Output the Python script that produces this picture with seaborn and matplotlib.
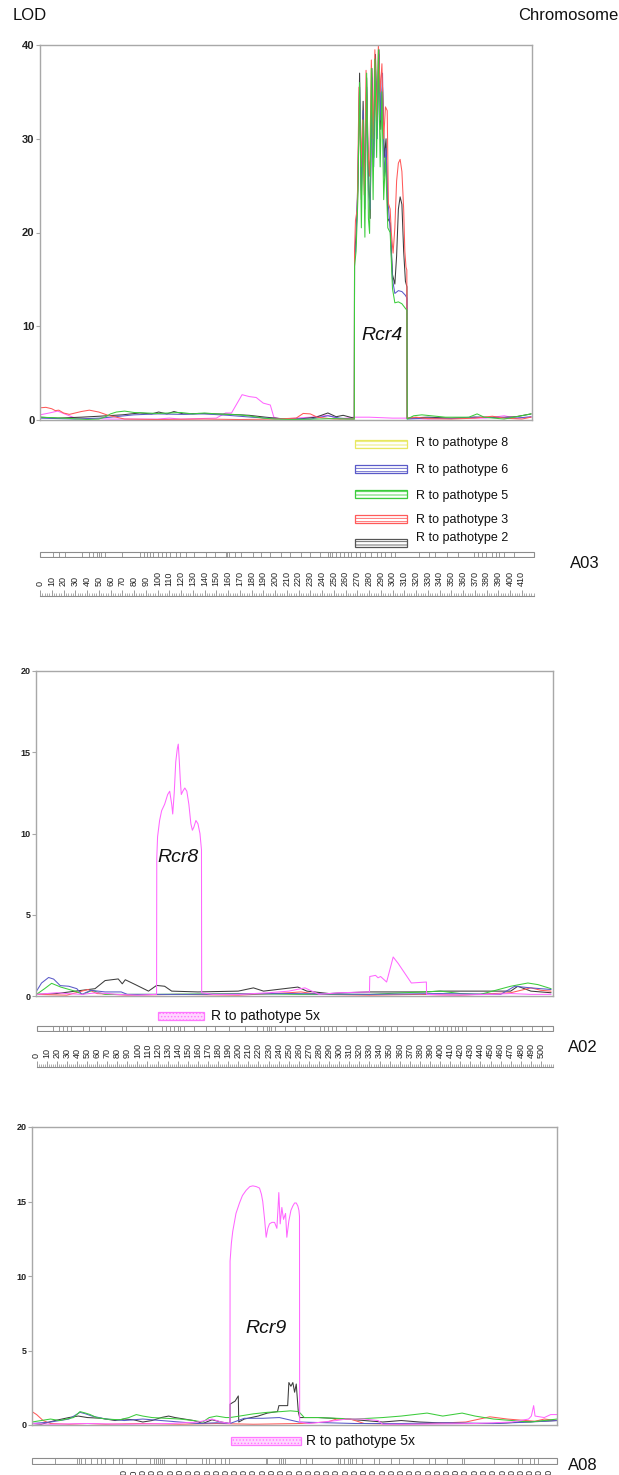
import matplotlib
matplotlib.use("Agg")
import matplotlib.pyplot as plt
import seaborn as sns
import pandas as pd
import numpy as np
from matplotlib.patches import Rectangle

# ---------------- DATA ----------------
# A03 (top panel) LOD profiles, (cM, LOD)
a03_black = [(0,0.3),(15,0.2),(35,0.3),(50,0.4),(70,0.55),(85,0.75),(95,0.65),(101,0.85),(108,0.65),(114,0.9),(122,0.65),(135,0.7),(150,0.65),(163,0.6),(178,0.5),(192,0.3),(205,0.15),(220,0.1),(235,0.3),(245,0.75),(252,0.35),(258,0.5),(264,0.3),(267.5,0.2),
             (267.7,17.5),(269,19.8),(270.5,24.5),(272,37),(273.5,23.5),(275,34),(276.5,24.5),(278,36.5),(279.5,26.5),(281,21.5),(282.5,37.5),(284,28),(285.5,39),(287,31),(288.5,39.5),(290,31),(291.5,35.5),(293,28),(294.5,30),(296,21.5),(298,21),(300,15.5),(302,14.5),(303.5,17.5),(305,22.5),(306.5,23.8),(308,23),(309.5,18),(311,14.8),(312.3,14.2),
             (312.5,0.2),(330,0.3),(350,0.2),(370,0.3),(390,0.25),(405,0.35),(418,0.65)]
a03_red = [(0,1.3),(5,1.35),(10,1.2),(13,1.0),(16,1.05),(20,0.75),(25,0.6),(35,0.9),(42,1.05),(50,0.85),(58,0.5),(65,0.3),(72,0.1),(100,0.05),(140,0.1),(170,0.05),(200,0.1),(218,0.2),(224,0.7),(230,0.65),(236,0.3),(250,0.1),(267.5,0.1),
           (267.7,18),(268.5,21.3),(270,22.5),(271.5,35.5),(273,27),(274.5,32),(276,24),(277.5,37.3),(279,29),(280.5,26),(282,38.4),(283.5,30),(285,39.5),(286.5,32),(288,40),(289.5,35),(291,38),(292.5,30),(294,33.4),(295.5,33),(296.5,23.1),(298,22.5),(299,20),(300.5,17.8),(302,20.5),(303.5,25.5),(305,27.4),(306.5,27.8),(308,26.5),(309.5,22.5),(310.5,18),(311.5,16.3),(312.2,16),
           (312.4,0.2),(320,0.3),(330,0.15),(350,0.1),(370,0.2),(385,0.4),(395,0.2),(410,0.1),(418,0.3)]
a03_green = [(0,0.3),(20,0.2),(40,0.05),(50,0.1),(55,0.3),(60,0.65),(65,0.85),(72,0.95),(80,0.8),(90,0.75),(100,0.7),(110,0.75),(120,0.8),(130,0.65),(140,0.75),(150,0.65),(160,0.6),(170,0.55),(180,0.4),(190,0.2),(200,0.1),(215,0.05),(235,0.1),(250,0.15),(260,0.1),(267.5,0.1),
             (267.7,16.4),(269,18),(270.5,23.5),(272,36),(273.5,20.5),(275,32),(276.5,19.5),(278,37),(279.5,21.5),(280.5,19.9),(282,37.5),(283.5,23.5),(285,38.5),(286.5,28),(288,39.5),(289.5,27),(291,35),(292.5,23.5),(294,28),(296,20.5),(298,20),(300,14),(302,12.5),(305,12.6),(308,12.4),(311,11.9),(312.3,11.7),
             (312.5,0.1),(318,0.45),(325,0.55),(345,0.3),(365,0.3),(372,0.65),(378,0.3),(395,0.1),(418,0.65)]
a03_blue = [(0,0.2),(30,0.1),(50,0.2),(60,0.3),(80,0.55),(100,0.65),(120,0.6),(140,0.65),(160,0.5),(180,0.3),(200,0.15),(230,0.1),(245,0.45),(255,0.2),(267.5,0.1),
            (267.7,17),(269,19),(270.5,25.5),(272,35.5),(273.5,24.5),(275,33),(276.5,22.5),(278,35.5),(279.5,24.5),(281,22.5),(282.5,36.5),(284,27),(285.5,37.5),(287,30),(288.5,39),(290,32),(291.5,37),(293,26),(294.5,29),(296,23.5),(298,20.5),(300,15),(302,13.5),(305,13.8),(308,13.7),(311,13.3),(312.3,13),
            (312.5,0.1),(330,0.2),(350,0.15),(370,0.3),(390,0.3),(405,0.2),(418,0.35)]
a03_magenta = [(0,0.55),(8,0.75),(15,0.95),(22,0.6),(30,0.2),(60,0.1),(100,0.1),(110,0.2),(120,0.1),(150,0.2),(158,0.75),(163,0.75),(166,1.4),(172,2.7),(178,2.5),(184,2.4),(190,1.8),(196,1.6),(199,0.3),(205,0.1),(230,0.3),(245,0.5),(255,0.1),(267,0.3),(280,0.3),(300,0.2),(312,0.2),(330,0.1),(360,0.2),(380,0.2),(395,0.45),(405,0.2),(418,0.3)]

# A02 (middle panel)
a02_black = [(0,0.1),(20,0.15),(45,0.35),(58,0.45),(68,0.95),(81,1.05),(85,0.75),(88,1.0),(98,0.7),(111,0.3),(119,0.65),(127,0.6),(134,0.3),(160,0.25),(200,0.3),(215,0.5),(225,0.3),(259,0.55),(268,0.3),(290,0.15),(305,0.2),(330,0.25),(385,0.25),(400,0.3),(470,0.3),(477,0.6),(490,0.3),(510,0.2)]
a02_red = [(0,0.1),(30,0.05),(51,0.4),(60,0.15),(90,0.05),(140,0.1),(200,0.05),(250,0.2),(262,0.25),(280,0.1),(330,0.05),(380,0.1),(420,0.05),(470,0.2),(490,0.5),(500,0.35),(510,0.3)]
a02_green = [(0,0.1),(8,0.45),(15,0.78),(24,0.55),(38,0.3),(46,0.1),(55,0.35),(62,0.2),(68,0.1),(120,0.1),(200,0.15),(260,0.1),(330,0.1),(400,0.3),(420,0.15),(440,0.1),(470,0.6),(487,0.8),(497,0.7),(510,0.45)]
a02_blue = [(0,0.3),(5,0.8),(12,1.14),(17,1.04),(23.5,0.64),(32,0.6),(40,0.45),(45,0.1),(54,0.35),(68,0.25),(84,0.25),(90,0.1),(150,0.1),(250,0.15),(330,0.1),(400,0.15),(460,0.1),(474,0.6),(490,0.5),(510,0.4)]
a02_magenta = [(0,0.1),(20,0.2),(30,0.15),(45,0.1),(60,0.2),(80,0.1),(100,0.05),(119,0.1),
               (119.2,8.5),(120,9.8),(122,10.8),(124,11.4),(127,11.8),(130,12.4),(132,12.6),(134,11.8),(135,11.2),(136.5,12.5),(138,14.4),(139.5,15.2),(140.5,15.5),(141.5,14.5),(142.5,13.3),(143.5,12.4),(145,12.6),(147,12.8),(149,12.6),(151,11.8),(153,10.6),(154.5,10.2),(156,10.4),(158,10.8),(160,10.6),(162,10.0),(163.5,9.0),
               (163.7,0.2),(175,0.1),(200,0.1),(230,0.2),(250,0.3),(266,0.5),(280,0.1),(300,0.2),(330,0.25),
               (330.3,1.2),(336,1.27),(338.5,1.12),(341,1.2),(347,0.86),(353.5,2.4),(358.5,2.0),(365,1.4),(371.5,0.8),(386.4,0.86),
               (386.6,0.1),(410,0.05),(450,0.1),(470,0.15),(490,0.1),(510,0.1)]

# A08 (bottom panel)
a08_black = [(0,0.1),(10,0.05),(25,0.3),(40,0.5),(50,0.6),(60,0.5),(75,0.45),(90,0.3),(100,0.4),(110,0.35),(120,0.2),(130,0.3),(140,0.5),(148,0.6),(155,0.5),(165,0.4),(175,0.3),(185,0.1),(195,0.35),(205,0.2),(214.5,0.1),
             (214.6,1.4),(220,1.6),(223.5,1.95),(224,0.2),(230,0.4),(245,0.6),(255,0.8),(266,0.9),(267.5,1.3),(277,1.3),(278.3,2.85),(280.5,2.6),(282.6,2.85),(284.5,2.2),(286.3,2.75),(288.5,0.9),(290,0.5),(310,0.5),(340,0.4),(360,0.3),(380,0.2),(400,0.3),(420,0.2),(440,0.15),(470,0.1),(500,0.1),(530,0.2),(569,0.3)]
a08_red = [(0,0.9),(5,0.7),(12,0.3),(20,0.1),(40,0.05),(60,0.1),(80,0.05),(120,0.1),(160,0.05),(200,0.1),(240,0.05),(290,0.1),(320,0.2),(330,0.4),(345,0.4),(360,0.1),(400,0.05),(430,0.1),(470,0.2),(496,0.55),(515,0.4),(535,0.3),(545,0.25),(555,0.4),(569,0.3)]
a08_green = [(0,0.2),(10,0.3),(20,0.4),(30,0.3),(45,0.5),(52,0.9),(58,0.8),(63,0.7),(70,0.5),(80,0.4),(95,0.35),(105,0.5),(113,0.7),(120,0.6),(130,0.5),(145,0.45),(160,0.4),(175,0.3),(185,0.2),(192,0.5),(200,0.6),(210,0.5),(214.5,0.5),(225,0.6),(240,0.75),(255,0.85),(270,0.9),(280,0.95),(289,0.9),(295,0.5),(310,0.5),(330,0.45),(350,0.4),(380,0.5),(400,0.6),(428,0.8),(445,0.6),(466,0.8),(480,0.6),(500,0.4),(520,0.3),(540,0.2),(555,0.3),(569,0.4)]
a08_blue = [(0,0.1),(20,0.2),(40,0.4),(52,0.85),(58,0.75),(65,0.6),(80,0.4),(100,0.3),(120,0.4),(140,0.3),(160,0.2),(180,0.1),(200,0.15),(214.5,0.1),(230,0.45),(250,0.45),(268,0.5),(289,0.2),(320,0.15),(350,0.1),(400,0.1),(450,0.15),(500,0.1),(540,0.2),(569,0.3)]
a08_magenta = [(0,0.1),(20,0.05),(60,0.1),(100,0.05),(150,0.1),(180,0.2),(195,0.4),(205,0.2),(214.5,0.1),
               (214.6,11.0),(216,12.2),(217.5,13.0),(221,14.2),(224.8,14.9),(228,15.4),(232,15.75),(236,16.0),(239.2,16.05),(243,16.0),(246.5,15.9),(248.5,15.5),(250,15.0),(252,13.8),(253.7,12.6),(255.5,13.2),(257.3,13.5),(260,13.6),(262.8,13.6),(265.3,13.2),(266.5,14.5),(267.4,15.6),(268.2,14.5),(268.9,13.5),(270.7,14.6),(272.5,13.8),(274.7,14.2),(276.1,12.6),(278.3,13.7),(280.5,14.4),(282.6,14.7),(284.5,14.9),(286.3,14.9),(288,14.7),(289.2,14.4),(289.8,14.0),
               (290,0.2),(300,0.1),(330,0.3),(340,0.4),(360,0.4),(375,0.3),(380,0.05),(420,0.05),(480,0.1),(520,0.2),(538,0.4),(541,0.6),(543.5,1.3),(545,0.6),(555,0.5),(562,0.7),(569,0.7)]

# Marker positions (cM) on the linkage-group bars, and chromosome lengths
a03_markers = [11.4,16.4,21.5,35.7,41.6,45,48.4,50,51.7,55,70,85,88.7,91,93.8,96.5,100.5,104,107,111,115.6,119,124,131,141,149,158,159,161,166,171,181,188,196,205,213,222,230,238,245,247,248.5,252,255,258.6,262,265,268.7,272.7,277,282,287,290.6,294,299,302,322.5,331,336,346,356,369.6,373,376,379.7,384.8,388,390.5,395,403]
a02_markers = [16.7,22.6,26.5,30.4,34.3,46,52,63.7,67.6,85,89,110.7,114.7,124.4,128.3,132.3,136.2,140,142,146,155.8,167.5,177.3,191,206.6,218.5,224.3,228.2,230.2,232.2,236,245.9,255.7,265.4,281.2,285,289,292.9,296.8,306.6,316.4,328.1,339.8,343.8,345.8,351.6,357.5,373,389,394.7,398.6,402.6,406.5,410.4,414.3,418.2,422.2,426,439.8,449.6,461.3,469.2,480.9,490.7,500.5]
a08_markers = [25.3,48.9,51,53,57.4,63.8,70.2,74.5,78.8,87.4,93.8,98,113,128,132.4,134.5,136.6,138.8,140.9,143,155.9,166.6,183.7,188,192.3,198.7,205,209.4,213.7,253,254.4,267.2,269.4,271.5,273.7,290.8,297.2,303.6,331.5,333.7,337.9,342,344.3,346.5,350.7,357.2,370,376.4,389.3,397.8,412.8,430,436.4,449.2,466.4,468.5,500.5,526.3,530.6,539.1,543.4,547.7]
a03_length, a02_length, a08_length = 420, 512, 569
a03_ticks = list(range(0, 411, 10))
a02_ticks = list(range(0, 501, 10))
a08_ticks = list(range(0, 561, 10))

legend_labels = ["R to pathotype 8", "R to pathotype 6", "R to pathotype 5",
                 "R to pathotype 3", "R to pathotype 2"]
qtl_names = ["Rcr4", "Rcr8", "Rcr9"]
qtl_pos = [(291, 9.0), (140.5, 8.5), (254, 6.5)]
chrom_names = ["A03", "A02", "A08"]
single_label = "R to pathotype 5x"

# ---------------- STYLE ----------------
sns.set_theme(style="white")
plt.rcParams['font.family'] = ['Liberation Sans', 'DejaVu Sans']
plt.rcParams['hatch.linewidth'] = 0.6

BLACK, RED, GREEN, BLUE, MAG, YEL = '#3c3c3c', '#ff5a5a', '#3ccc3c', '#5a5ac8', '#ff66ff', '#e8e860'
GRAY = '#a8a8a8'

W, H = 619, 1475
fig = plt.figure(figsize=(W / 100, H / 100), dpi=100)


def add_ax(x0, y0, x1, y1, **kw):
    return fig.add_axes([x0 / W, 1 - y1 / H, (x1 - x0) / W, (y1 - y0) / H], **kw)


def xl(x0, x1, org, s):
    return ((x0 - org) / s, (x1 - org) / s)


def draw_profiles(ax, series, ymax, ystep, fs):
    for pts, col in series:
        df = pd.DataFrame(pts, columns=['cM', 'LOD'])
        sns.lineplot(data=df, x='cM', y='LOD', ax=ax, color=col, lw=0.75,
                     estimator=None, sort=False, legend=False)
    ax.set_ylim(0, ymax)
    ax.set_yticks(range(0, ymax + 1, ystep))
    ax.set_xticks([])
    ax.set_xlabel('')
    ax.set_ylabel('')
    for sp in ax.spines.values():
        sp.set_color(GRAY)
        sp.set_linewidth(1.0)
    ax.tick_params(axis='y', left=True, length=3, width=0.8, color=GRAY,
                   labelsize=fs, pad=1, labelcolor='#222222')
    for t in ax.get_yticklabels():
        t.set_fontweight('bold')


def draw_markers(ax, markers, length):
    ax.add_patch(Rectangle((0, 0), length, 1, fill=False, ec='#8c8c8c', lw=0.8))
    ax.vlines(markers, 0, 1, color='#8c8c8c', lw=0.6)
    ax.set_ylim(-0.15, 1.15)
    ax.axis('off')


def draw_ruler(ax, ticks, length):
    ax.set_facecolor('none')
    ax.set_xticks(ticks)
    ax.set_xticklabels([str(t) for t in ticks])
    ax.set_xticks(np.arange(0, length + 1, 2), minor=True)
    ax.set_yticks([])
    ax.tick_params(axis='x', which='both', bottom=True, top=False,
                   labelbottom=False, labeltop=True, direction='in', color='#8c8c8c')
    ax.tick_params(axis='x', which='major', length=4, width=0.6, labelsize=6.5,
                   labelrotation=90, pad=1, labelcolor='#222222')
    ax.tick_params(axis='x', which='minor', length=2.5, width=0.5)
    for k in ['top', 'left', 'right']:
        ax.spines[k].set_visible(False)
    ax.spines['bottom'].set_color('#8c8c8c')
    ax.spines['bottom'].set_linewidth(0.8)
    ax.spines['bottom'].set_bounds(0, length)


panels = [
    dict(org=40, s=1.175, plot=(40, 45, 532, 420), bar=(38, 551, 540, 558), rul=(38, 587, 540, 596),
         ymax=40, ystep=10, fs=8,
         series=[(a03_magenta, MAG), (a03_black, BLACK), (a03_blue, BLUE), (a03_red, RED), (a03_green, GREEN)],
         markers=a03_markers, length=a03_length, ticks=a03_ticks),
    dict(org=36.5, s=1.009, plot=(36, 671, 553, 996), bar=(34, 1025, 556, 1032), rul=(34, 1059, 556, 1067),
         ymax=20, ystep=5, fs=6.5,
         series=[(a02_black, BLACK), (a02_red, RED), (a02_green, GREEN), (a02_blue, BLUE), (a02_magenta, MAG)],
         markers=a02_markers, length=a02_length, ticks=a02_ticks),
    dict(org=32, s=0.923, plot=(32, 1127, 557, 1425), bar=(30, 1457, 560, 1465), rul=(30, 1485, 560, 1494),
         ymax=20, ystep=5, fs=6.5,
         series=[(a08_black, BLACK), (a08_red, RED), (a08_blue, BLUE), (a08_green, GREEN), (a08_magenta, MAG)],
         markers=a08_markers, length=a08_length, ticks=a08_ticks),
]

for i, p in enumerate(panels):
    x0, y0, x1, y1 = p['plot']
    ax = add_ax(x0, y0, x1, y1)
    draw_profiles(ax, p['series'], p['ymax'], p['ystep'], p['fs'])
    ax.set_xlim(*xl(x0, x1, p['org'], p['s']))
    ax.text(qtl_pos[i][0], qtl_pos[i][1], qtl_names[i], style='italic',
            ha='center', va='center', fontsize=14, color='#111111')

    bx0, by0, bx1, by1 = p['bar']
    axb = add_ax(bx0, by0, bx1, by1)
    draw_markers(axb, p['markers'], p['length'])
    axb.set_xlim(*xl(bx0, bx1, p['org'], p['s']))

    rx0, ry0, rx1, ry1 = p['rul']
    axr = add_ax(rx0, ry0, rx1, ry1)
    draw_ruler(axr, p['ticks'], p['length'])
    axr.set_xlim(*xl(rx0, rx1, p['org'], p['s']))

# ---------------- overlay texts & legends (pixel coordinates) ----------------
ov = fig.add_axes([0, 0, 1, 1], zorder=10)
ov.set_xlim(0, W)
ov.set_ylim(H, 0)
ov.axis('off')
ov.patch.set_alpha(0)

ov.text(13, 15, "LOD", fontsize=12, va='center', ha='left', color='#111111')
ov.text(618, 15, "Chromosome", fontsize=12, va='center', ha='right', color='#111111')
for name, (cx, cy) in zip(chrom_names, [(570, 563), (568, 1047), (568, 1466)]):
    ov.text(cx, cy, name, fontsize=12, va='center', ha='left', color='#111111')

leg_cols = [YEL, BLUE, GREEN, RED, '#555555']
leg_rect_y = [440, 465, 490, 515, 539]
leg_text_y = [443, 470.5, 495.5, 520, 537.5]
for lab, c, ry, ty in zip(legend_labels, leg_cols, leg_rect_y, leg_text_y):
    ov.add_patch(Rectangle((355, ry), 52, 7.5, facecolor='white', edgecolor=c,
                           hatch='-----', lw=0.9))
    ov.text(416, ty, lab, fontsize=9, va='center', ha='left', color='#111111')

for (rx, ry, rw), (tx, ty) in zip([(158, 1012, 46), (231, 1437, 70)],
                                  [(211, 1016), (306, 1441)]):
    ov.add_patch(Rectangle((rx, ry), rw, 8, facecolor='#ffd6ff', edgecolor='#ff77ff',
                           hatch='.....', lw=0.9))
    ov.text(tx, ty, single_label, fontsize=10, va='center', ha='left', color='#111111')

fig.savefig("out.png", dpi=100)
